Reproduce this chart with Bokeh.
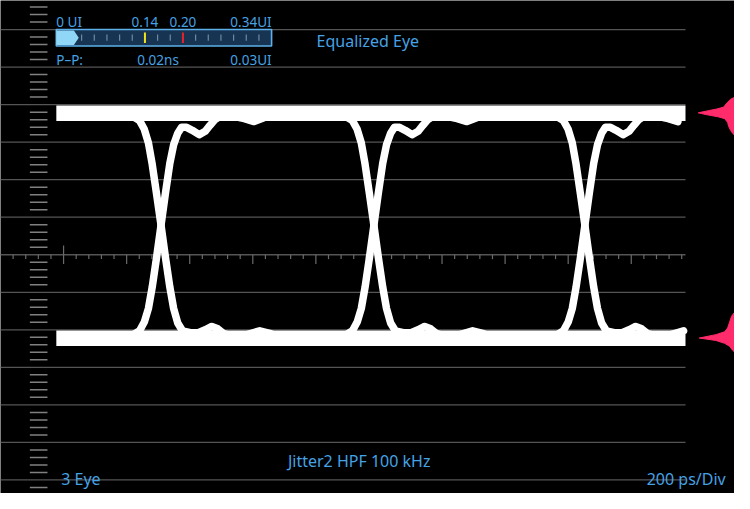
import numpy as np
from bokeh.plotting import figure
from bokeh.models import Range1d, Label
from bokeh.core.properties import value
from bokeh.embed import file_html
from bokeh.resources import INLINE

# ---------------- data ----------------
# time axis in ps (200 ps/div), vertical axis in divisions
ps_per_div = 200
crossings_ps = [509, 1184, 1853]          # eye crossing times
top_level = 3.768                          # logic-1 rail (div)
bottom_level = -2.225                      # logic-0 rail (div)
rail_start_ps = 177
rail_end_ps = 2172

# rising edge (incl. ringing) relative to crossing: dt (ps), v (div)
rise_dt = [-186, -93, -68, -53, -40, -28, -14, 0, 14, 28, 40, 53, 65, 81, 99,
           121, 140, 155, 171, 192, 223, 264, 295, 326, 366]
rise_v = [-2.225, -2.155, -2.026, -1.794, -1.432, -0.865, -0.065, 0.787, 1.639,
          2.439, 2.929, 3.239, 3.394, 3.394, 3.316, 3.200, 3.290, 3.445, 3.600,
          3.716, 3.703, 3.626, 3.548, 3.652, 3.768]

# falling edge (incl. ringing) relative to crossing
fall_dt = [-223, -93, -68, -53, -40, -28, -14, 0, 14, 28, 40, 53, 68, 93, 118,
           140, 161, 180, 199, 233, 273, 313, 348, 388]
fall_v = [3.768, 3.703, 3.574, 3.342, 2.981, 2.413, 1.613, 0.787, -0.065, -0.865,
          -1.432, -1.819, -2.026, -2.077, -2.077, -2.000, -1.910, -1.974, -2.103,
          -2.181, -2.129, -2.026, -2.103, -2.225]

# amplitude histograms (right edge)
hist_top_v = [4.194, 4.142, 4.039, 3.935, 3.884, 3.832, 3.781, 3.729, 3.677,
              3.626, 3.523, 3.419, 3.316, 3.239, 3.187]
hist_top_n = [0, 4, 8, 11, 18, 28, 37, 28, 17, 10, 7, 6, 4, 2, 0]
hist_bot_v = [-1.535, -1.639, -1.794, -1.948, -2.052, -2.129, -2.219, -2.284,
              -2.361, -2.439, -2.542, -2.594]
hist_bot_n = [0, 3, 5, 7, 10, 19, 36, 19, 10, 5, 2, 0]

# jitter gauge (UI)
gauge_max_ui = 0.34
gauge_pp_ui = 0.03
gauge_marks_ui = [0.14, 0.20]
gauge_mark_colors = ["#f2e21c", "#e8202a"]
gauge_tick_step = 0.02
gauge_labels_top = ["0 UI", "0.14", "0.20", "0.34UI"]
gauge_labels_top_pos = [0.0, 0.14, 0.20, 0.34]
pp_label = "P–P:"
pp_ns_text = "0.02ns"
pp_ui_text = "0.03UI"

title_text = "Equalized Eye"
filter_text = "Jitter2 HPF 100 kHz"
eye_count_text = "3 Eye"
timebase_text = "200 ps/Div"

# ---------------- layout helpers (reference pixels -> data) ----------------
PX_PER_DIV_X = 64.45
PX_PER_DIV_Y = 38.75
Y0_PX = 262.5
REF_W, REF_H = 750, 509
W, H = 734, 493


def tx(px):
    return px / PX_PER_DIV_X * ps_per_div


def vy(px):
    return (Y0_PX - px) / PX_PER_DIV_Y


GAUGE_X0, GAUGE_X1 = 57.0, 277.0
ui_per_px = gauge_max_ui / (GAUGE_X1 - GAUGE_X0)

p = figure(width=W, height=H,
           x_range=Range1d(tx(0), tx(REF_W)), y_range=Range1d(vy(REF_H), vy(0)),
           output_backend="svg", toolbar_location=None,
           x_axis_type=None, y_axis_type=None, min_border=0,
           background_fill_color="black", border_fill_color="black",
           outline_line_color=None)
p.extra_x_ranges = {
    "ui": Range1d(-GAUGE_X0 * ui_per_px, (REF_W - GAUGE_X0) * ui_per_px),
    "hist": Range1d(REF_W, 0),
}

GRID = "#555555"
BLUE = "#46a2e4"
FONT = "Noto Sans"

# horizontal graticule lines
grid_v = np.arange(-6, 7)
p.segment(x0=tx(0), x1=rail_end_ps, y0=grid_v, y1=grid_v,
          line_color=GRID, line_width=1.3)

# left minor ticks (every 0.2 div)
k = np.arange(-31, 34)
tick_v = k[k % 5 != 0] * 0.2
p.segment(x0=tx(30), x1=tx(48), y0=tick_v, y1=tick_v,
          line_color="#808080", line_width=1.5)

# centre axis ticks
minor_t = np.arange(0, rail_end_ps + 1, 40)
minor_t = minor_t[minor_t % 200 != 0]
p.segment(x0=minor_t, x1=minor_t, y0=0, y1=vy(Y0_PX + 4.5),
          line_color="#6a6a6a", line_width=1.2)
major_t = np.arange(200, rail_end_ps + 1, 200)
p.segment(x0=major_t, x1=major_t, y0=0, y1=vy(Y0_PX + 9.5),
          line_color="#6a6a6a", line_width=1.2)
p.segment(x0=major_t[:1], x1=major_t[:1], y0=vy(Y0_PX - 9.5), y1=0,
          line_color="#6a6a6a", line_width=1.2)

# rails
for lvl in (top_level, bottom_level):
    p.line([rail_start_ps, rail_end_ps], [lvl, lvl], line_color="white",
           line_width=15.5, line_cap="butt")

# transitions (clipped to the acquisition window)
rdt = np.array(rise_dt)
fdt = np.array(fall_dt)
rv = np.array(rise_v)
fv = np.array(fall_v)
for c in crossings_ps:
    for dt, vv in ((rdt, rv), (fdt, fv)):
        t = c + dt
        m = (t >= rail_start_ps) & (t <= rail_end_ps)
        p.line(t[m], vv[m], line_color="white", line_width=7.5,
               line_join="round", line_cap="round")

# histograms
HIST_COL = "#ff2b6b"
p.patch(x=hist_top_n, y=hist_top_v, x_range_name="hist", fill_color=HIST_COL,
        line_color=HIST_COL, line_width=1)
p.patch(x=hist_bot_n, y=hist_bot_v, x_range_name="hist", fill_color=HIST_COL,
        line_color=HIST_COL, line_width=1)

# gauge body
p.quad(left=0, right=gauge_max_ui, top=vy(30), bottom=vy(47), x_range_name="ui",
       fill_color="#173452", line_color="#5db0ea", line_width=1.6)
g_ticks = np.arange(1, int(round(gauge_max_ui / gauge_tick_step))) * gauge_tick_step
p.segment(x0=g_ticks, x1=g_ticks, y0=vy(35), y1=vy(41.5), x_range_name="ui",
          line_color="#6d8aa3", line_width=1.2)
p.segment(x0=gauge_marks_ui, x1=gauge_marks_ui, y0=[vy(33)] * 2, y1=[vy(44)] * 2,
          x_range_name="ui", line_color=gauge_mark_colors, line_width=2)
# P-P fill (arrow)
tip = gauge_pp_ui + 0.0055
body = gauge_pp_ui - 0.0022
p.patch(x=[0, body, tip, body, 0],
        y=[vy(31), vy(31), vy(38.5), vy(46), vy(46)], x_range_name="ui",
        fill_color="#8fd6f7", line_color=None)

# gauge labels
GS = "13.5px"
aligns = ["left", "center", "center", "right"]
for txt, pos, al in zip(gauge_labels_top, gauge_labels_top_pos, aligns):
    p.text(x=[pos], y=[vy(22)], text=[txt], x_range_name="ui",
           text_font=value(FONT), text_font_size=GS, text_color=BLUE,
           text_align=al, text_baseline="middle")
p.text(x=[0], y=[vy(61)], text=[pp_label], x_range_name="ui",
       text_font=value(FONT), text_font_size=GS, text_color=BLUE,
       text_align="left", text_baseline="middle")
p.text(x=[(161 - GAUGE_X0) * ui_per_px], y=[vy(61)], text=[pp_ns_text],
       x_range_name="ui", text_font=value(FONT), text_font_size=GS,
       text_color=BLUE, text_align="center", text_baseline="middle")
p.text(x=[gauge_max_ui], y=[vy(61)], text=[pp_ui_text], x_range_name="ui",
       text_font=value(FONT), text_font_size=GS, text_color=BLUE,
       text_align="right", text_baseline="middle")

# other labels
for txt, xpx, ypx, al in [(title_text, 323, 42, "left"),
                          (filter_text, 366.5, 475, "center"),
                          (eye_count_text, 62, 494.5, "left"),
                          (timebase_text, 741, 494.5, "right")]:
    p.add_layout(Label(x=tx(xpx), y=vy(ypx), text=txt, text_font=FONT,
                       text_font_size="16px", text_color=BLUE, text_align=al,
                       text_baseline="middle"))

open("out.html", "w").write(file_html(p, INLINE))
